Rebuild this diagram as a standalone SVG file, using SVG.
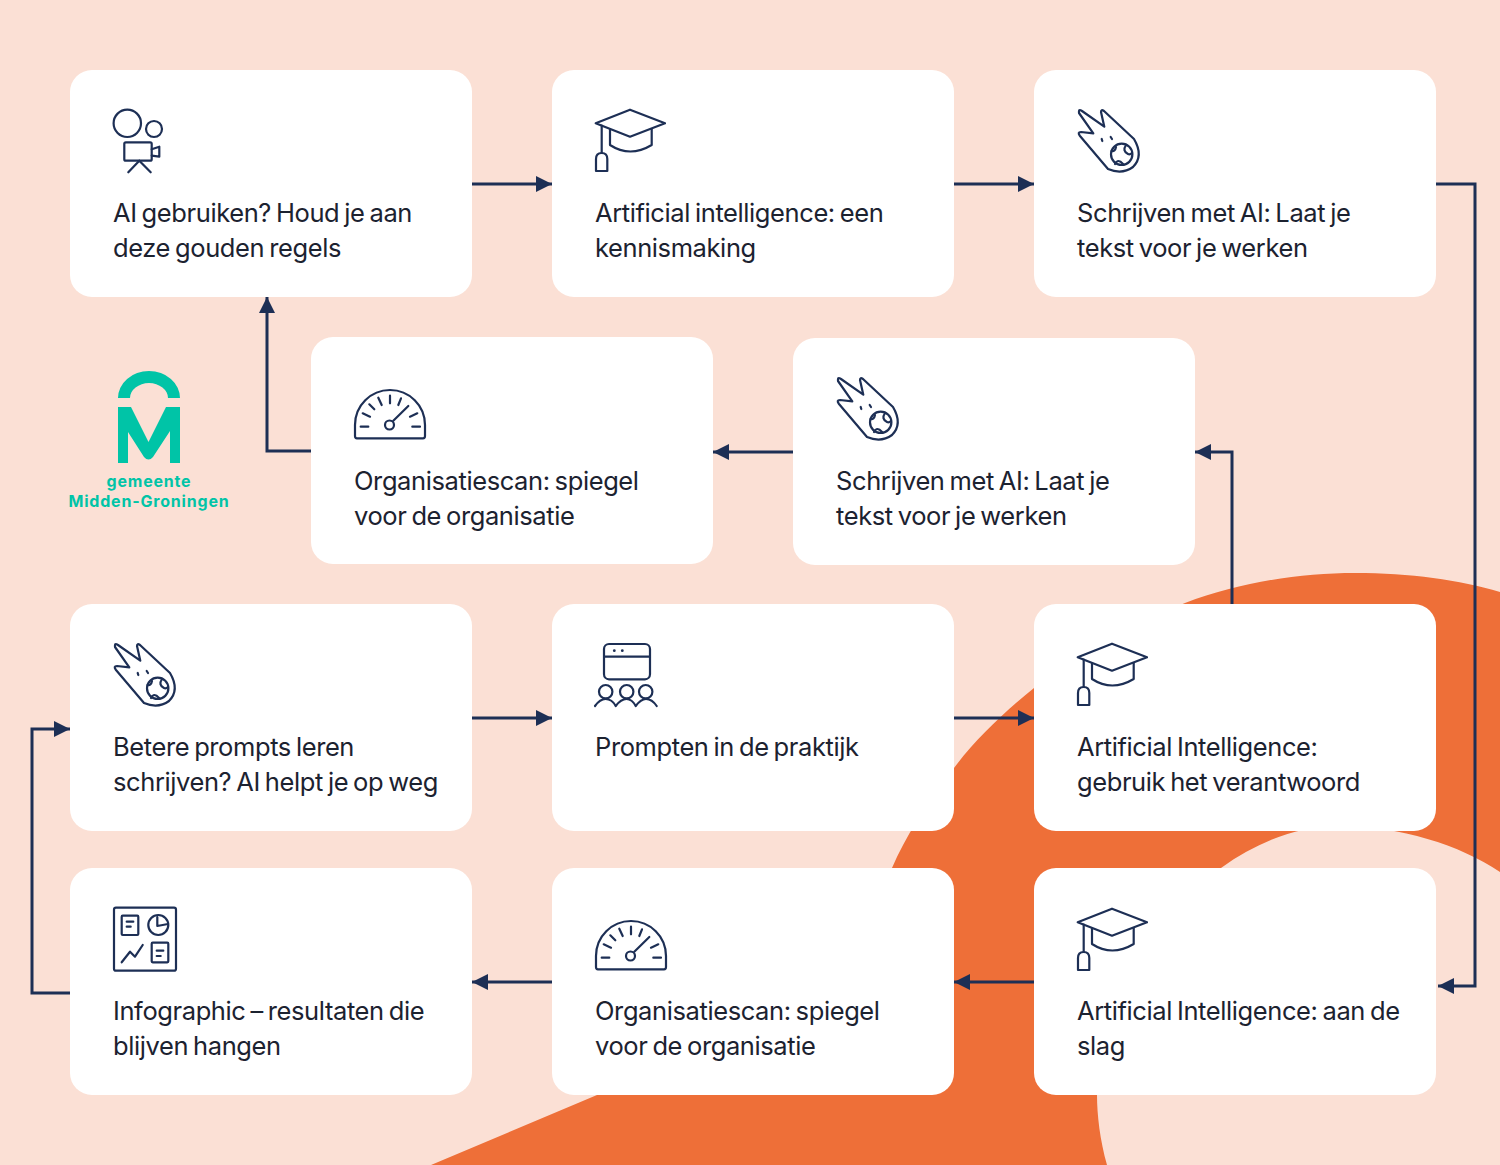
<svg xmlns="http://www.w3.org/2000/svg" width="1500" height="1165" viewBox="0 0 1500 1165">
<style>
.card{fill:#fff}
.t{font-family:"Inter","Liberation Sans",sans-serif;font-size:25.5px;font-weight:400;fill:#1c2230;letter-spacing:-.4px;word-spacing:-1.8px}
.i{fill:none;stroke:#1d2f55;stroke-width:2.2;stroke-linecap:round;stroke-linejoin:round}
.c{fill:none;stroke:#1d2f55;stroke-width:3}
.l{font-family:"Inter","Liberation Sans",sans-serif;font-size:16px;font-weight:700;fill:#00c4a7;text-anchor:middle;letter-spacing:.8px}
</style>
<defs>
<marker id="a" markerUnits="userSpaceOnUse" markerWidth="16" markerHeight="18" refX="16" refY="9" orient="auto"><path d="M0 1L16 9L0 17Z" fill="#1d2f55"/></marker>
<g id="cap" class="i"><path d="M595.7 123.3L630 109.7L665 123.3L630 136.7Z"/><path d="M610 129V145Q630 158 651.7 145V129"/><path d="M601.7 125.7V153"/><path d="M596 171V159Q596 153 601.7 153Q607.3 153 607.3 159V171Z"/></g>
<g id="comet" class="i"><path d="M1079 111Q1079 109 1082 111L1104.3 126.7L1101 112Q1101 109 1104 111L1134 139Q1144 156 1133 167Q1122 175 1108 169L1080 136Q1077 132 1081 132L1093.3 133.3L1079 113Z"/><circle cx="1121.7" cy="154.3" r="10.7"/><path d="M1126 145Q1122 151 1128 154Q1130 155 1132 153M1115 164Q1118 158 1123 164M1111.5 151Q1115 152 1116 147"/><path d="M1101.7 139L1102.3 141M1110.7 137L1112 139"/></g>
<g id="gauge" class="i"><path d="M355 425A35 35 0 0 1 425 425V436Q425 438.3 423 438.3H357Q355 438.3 355 436Z"/><circle cx="389.5" cy="425" r="4.5"/><path d="M393.3 420.7L408.3 406M360.7 426.7H368.3M412.3 426.7H420M362.7 413.3L370 416.7M369.3 404.3L374.3 409.3M378.3 397.7L381.7 405M390 395.7V403.3M401 398.3L398.3 405M417.3 413.3L410 416.7"/></g>
</defs>
<rect width="1500" height="1165" fill="#fbe0d5"/>
<path d="M431 1165L597 1095L850 1000L892 868C905 838 925 805 954 768C975 740 1003 713 1034 688C1080 650 1130 625 1185 603C1240 582 1300 573 1355 573C1410 573 1460 580 1500 592V872C1460 845 1400 826 1340 826C1300 826 1260 840 1221 868C1150 900 1097 990 1097 1095C1097 1115 1100 1140 1107 1165Z" fill="#ee6f38"/>
<g id="logo">
<path d="M118 398A31 27 0 0 1 180 398H168A19 15 0 0 0 130 398Z" fill="#00c4a7"/>
<path d="M118 407H131L148.5 442L166 407H180V463H170V431L153 457Q148.5 462 144 457L128 432V463H118Z" fill="#00c4a7"/>
<text class="l" x="149" y="487">gemeente</text>
<text class="l" x="149" y="507">Midden-Groningen</text>
</g>
<g id="n1"><rect class="card" x="70" y="70" width="402" height="227" rx="22"/><g class="i"><circle cx="127.3" cy="123.3" r="13.7"/><circle cx="154" cy="129" r="8"/><rect x="124.3" y="142.3" width="27.4" height="18.4" rx="1.5"/><path d="M151.7 149.3L159.3 146.7V156.7L151.7 155.7M139.3 160.7L128.3 172.3M139.3 160.7L150.7 172.3"/></g><text class="t" x="113" y="222">AI gebruiken? Houd je aan</text><text class="t" x="113" y="257">deze gouden regels</text></g>
<g id="n2"><rect class="card" x="552" y="70" width="402" height="227" rx="22"/><use href="#cap"/><text class="t" x="595" y="222">Artificial intelligence: een</text><text class="t" x="595" y="257">kennismaking</text></g>
<g id="n3"><rect class="card" x="1034" y="70" width="402" height="227" rx="22"/><use href="#comet"/><text class="t" x="1077" y="222">Schrijven met AI: Laat je</text><text class="t" x="1077" y="257">tekst voor je werken</text></g>
<g id="n4"><rect class="card" x="311" y="337" width="402" height="227" rx="22"/><use href="#gauge"/><text class="t" x="354" y="490">Organisatiescan: spiegel</text><text class="t" x="354" y="525">voor de organisatie</text></g>
<g id="n5"><rect class="card" x="793" y="338" width="402" height="227" rx="22"/><use href="#comet" x="-241" y="268"/><text class="t" x="836" y="490">Schrijven met AI: Laat je</text><text class="t" x="836" y="525">tekst voor je werken</text></g>
<g id="n6"><rect class="card" x="70" y="604" width="402" height="227" rx="22"/><use href="#comet" x="-964" y="534"/><text class="t" x="113" y="756">Betere prompts leren</text><text class="t" x="113" y="791">schrijven? AI helpt je op weg</text></g>
<g id="n7"><rect class="card" x="552" y="604" width="402" height="227" rx="22"/><g class="i"><rect x="604" y="644" width="46" height="35.3" rx="5"/><path d="M604 656.7H650M595 706Q600 699 605.5 699Q612 699 615.7 706Q621 699 626.5 699Q632 699 635.7 706Q641 699 646 699Q652 699 656.7 706"/><circle cx="605.7" cy="691.7" r="6.7"/><circle cx="626.7" cy="691.7" r="6.7"/><circle cx="645.7" cy="691.7" r="6.7"/></g><circle cx="614.3" cy="650.7" r="1.4" fill="#1d2f55"/><circle cx="622.3" cy="650.7" r="1.4" fill="#1d2f55"/><text class="t" x="595" y="756">Prompten in de praktijk</text></g>
<g id="n8"><rect class="card" x="1034" y="604" width="402" height="227" rx="22"/><use href="#cap" x="482" y="534"/><text class="t" x="1077" y="756">Artificial Intelligence:</text><text class="t" x="1077" y="791">gebruik het verantwoord</text></g>
<g id="n9"><rect class="card" x="1034" y="868" width="402" height="227" rx="22"/><use href="#cap" x="482" y="799"/><text class="t" x="1077" y="1020">Artificial Intelligence: aan de</text><text class="t" x="1077" y="1055">slag</text></g>
<g id="n10"><rect class="card" x="552" y="868" width="402" height="227" rx="22"/><use href="#gauge" x="241" y="531"/><text class="t" x="595" y="1020">Organisatiescan: spiegel</text><text class="t" x="595" y="1055">voor de organisatie</text></g>
<g id="n11"><rect class="card" x="70" y="868" width="402" height="227" rx="22"/><g class="i"><rect x="114" y="907.7" width="62" height="63" rx="2"/><rect x="121.7" y="915.7" width="16.6" height="19.3" rx="1"/><path d="M126.7 921.7H133.3M126.7 926.7H130.7"/><circle cx="158.3" cy="925" r="10"/><path d="M157.3 917V926L168 924"/><path d="M121.7 962.3L130 951.7L135 956.7L142.7 945"/><rect x="151.7" y="942.7" width="16.6" height="19.6" rx="1"/><path d="M156.7 950.7H163.3M156.7 956H160.7"/></g><text class="t" x="113" y="1020">Infographic – resultaten die</text><text class="t" x="113" y="1055">blijven hangen</text></g>
<g id="connectors">
<path class="c" marker-end="url(#a)" d="M472 184H552"/>
<path class="c" marker-end="url(#a)" d="M954 184H1034"/>
<path class="c" marker-end="url(#a)" d="M1436 184H1475V986H1438"/>
<path class="c" marker-end="url(#a)" d="M793 452H713"/>
<path class="c" marker-end="url(#a)" d="M1232 604V452H1195"/>
<path class="c" marker-end="url(#a)" d="M311 451H267V297"/>
<path class="c" marker-end="url(#a)" d="M472 718H552"/>
<path class="c" marker-end="url(#a)" d="M954 718H1034"/>
<path class="c" marker-end="url(#a)" d="M1034 982H954"/>
<path class="c" marker-end="url(#a)" d="M552 982H472"/>
<path class="c" marker-end="url(#a)" d="M70 993H32V729H70"/>
</g>
</svg>
